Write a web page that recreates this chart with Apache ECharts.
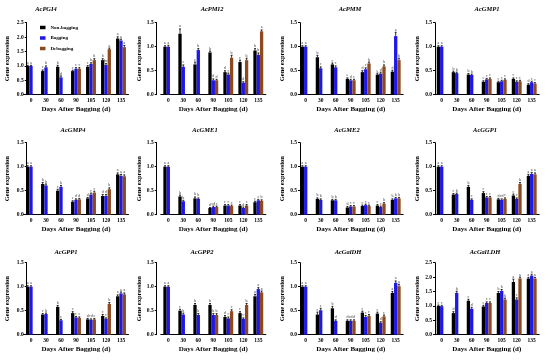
<!DOCTYPE html>
<html><head><meta charset="utf-8">
<script src="https://cdn.jsdelivr.net/npm/echarts@6/dist/echarts.min.js"></script>
<style>html,body{margin:0;padding:0;background:#fff}#c{width:550px;height:360px}</style>
</head><body><div id="c"></div><script>
const days = ['0','30','60','90','105','120','135'];
const groups = ['Non-bagging','Bagging','Debagging'];
const colors = ['#000000','#1f16e8','#8e4a1f'];

// values: [Non-bagging, Bagging, Debagging] by day
const acPGI4 = [[1.00,0.82,0.97,0.82,0.97,1.20,1.95],[1.00,0.95,0.60,0.90,1.07,1.03,1.88],[null,null,null,0.90,1.20,1.58,1.65]];
const acPMI2 = [[1.00,1.27,0.63,0.88,0.47,0.68,0.92],[1.00,0.58,0.93,0.30,0.42,0.25,0.83],[null,null,null,0.30,0.77,0.72,1.32]];
const acPMM = [[1.00,0.78,0.63,0.33,0.47,0.42,0.48],[1.00,0.55,0.57,0.30,0.53,0.44,1.22],[null,null,null,0.30,0.65,0.59,0.72]];
const acGMP1 = [[1.00,0.47,0.42,0.27,0.26,0.33,0.21],[1.00,0.45,0.41,0.32,0.28,0.27,0.26],[null,null,null,0.33,0.31,0.28,0.23]];
const acGMP4 = [[1.00,0.64,0.50,0.27,0.34,0.39,0.84],[1.00,0.61,0.58,0.31,0.42,0.39,0.81],[null,null,null,0.32,0.46,0.53,0.80]];
const acGME1 = [[1.00,0.38,0.34,0.14,0.19,0.19,0.26],[1.00,0.28,0.33,0.16,0.19,0.14,0.30],[null,null,null,0.16,0.18,0.19,0.29]];
const acGME2 = [[1.00,0.33,0.30,0.15,0.18,0.19,0.31],[1.00,0.31,0.30,0.17,0.20,0.16,0.34],[null,null,null,0.17,0.18,0.23,0.34]];
const acGGP1 = [[1.00,0.42,0.58,0.45,0.32,0.40,0.81],[1.00,0.43,0.31,0.36,0.31,0.33,0.85],[null,null,null,0.36,0.33,0.64,0.84]];
const acGPP1 = [[1.00,0.42,0.58,0.45,0.32,0.39,0.80],[1.00,0.43,0.30,0.36,0.31,0.33,0.86],[null,null,null,0.35,0.32,0.64,0.84]];
const acGPP2 = [[1.00,0.50,0.62,0.62,0.37,0.45,0.80],[1.00,0.42,0.41,0.41,0.34,0.33,0.95],[null,null,null,0.41,0.49,0.62,0.88]];
const acGalDH = [[1.00,0.42,0.55,0.29,0.46,0.44,0.87],[1.00,0.51,0.29,0.29,0.37,0.25,1.08],[null,null,null,0.29,0.39,0.38,1.01]];
const acGalLDH = [[1.00,0.75,1.18,0.98,1.45,1.83,1.95],[0.99,1.45,0.90,1.10,1.52,1.22,2.05],[null,null,null,1.10,1.22,1.95,1.95]];

// error bars (upper), same layout
const acPGI4Err = [[.02,.04,.05,.03,.04,.05,.06],[.02,.05,.05,.04,.04,.05,.05],[0,0,0,.04,.05,.04,.06]];
const acPMI2Err = [[.02,.10,.05,.03,.03,.04,.04],[.03,.04,.03,.03,.03,.02,.04],[0,0,0,.02,.05,.04,.03]];
const acPMMErr = [[.02,.04,.03,.02,.03,.03,.03],[.02,.03,.03,.02,.03,.03,.08],[0,0,0,.02,.03,.03,.04]];
const acGMP1Err = [[.02,.02,.02,.02,.02,.02,.02],[.02,.02,.02,.02,.02,.02,.02],[0,0,0,.02,.02,.02,.02]];
const acGMP4Err = [[.02,.03,.03,.02,.02,.03,.03],[.02,.03,.03,.02,.03,.03,.03],[0,0,0,.02,.03,.03,.03]];
const acGME1Err = [[.02,.03,.03,.01,.02,.02,.02],[.02,.02,.02,.02,.02,.02,.02],[0,0,0,.02,.02,.02,.02]];
const acGME2Err = [[.02,.02,.02,.02,.02,.02,.02],[.02,.02,.02,.02,.02,.02,.02],[0,0,0,.02,.02,.02,.02]];
const acGGP1Err = [[.02,.02,.03,.03,.02,.03,.03],[.02,.02,.02,.02,.02,.02,.03],[0,0,0,.02,.02,.03,.03]];
const acGPP1Err = [[.02,.02,.03,.03,.02,.03,.03],[.02,.02,.02,.02,.02,.02,.03],[0,0,0,.02,.02,.03,.03]];
const acGPP2Err = [[.02,.03,.03,.03,.03,.03,.04],[.02,.03,.03,.03,.03,.02,.03],[0,0,0,.03,.03,.03,.03]];
const acGalDHErr = [[.02,.05,.04,.02,.03,.03,.03],[.02,.04,.02,.02,.03,.02,.04],[0,0,0,.02,.03,.03,.04]];
const acGalLDHErr = [[.03,.05,.05,.04,.05,.10,.04],[.03,.06,.05,.04,.05,.06,.05],[0,0,0,.04,.05,.05,.04]];

// significance letters
const acPGI4Sig = ['a c b c c b a','a b d c b bc a','- - - c b a a'];
const acPMI2Sig = ['a a c b d c b','a c b d c d b','- - - d b b a'];
const acPMMSig = ['a b c e d e d','a c c d c d a','- - - c b b b'];
const acGMP1Sig = ['a b b c c c d','a b b c c c c','- - - c c c c'];
const acGMP4Sig = ['a b c e d d a','a b b d c d a','- - - d c b a'];
const acGME1Sig = ['a b b d c c c','a b b cd c d c','- - - c c c b'];
const acGME2Sig = ['a b b d c c b','a b b c c c b','- - - c c b b'];
const acGGP1Sig = ['a c b c d c a','a b c c cd c a','- - - c c b a'];
const acGPP1Sig = ['a c b c d c a','a b c c cd c a','- - - c c b a'];
const acGPP2Sig = ['a c b b d c a','a b b b c c a','- - - b c b a'];
const acGalDHSig = ['a c b d c c a','a c d cd c d a','- - - d c c a'];
const acGalLDHSig = ['c d c c b a a','c b d c b c a','- - - c b a a'];

const genes = ['AcPGI4','AcPMI2','AcPMM','AcGMP1','AcGMP4','AcGME1','AcGME2','AcGGP1','AcGPP1','AcGPP2','AcGalDH','AcGalLDH'];
const yMax = [2.5,1.5,1.5,1.5,1.5,1.5,1.5,1.5,1.5,1.5,1.5,2.5];
const values = [acPGI4,acPMI2,acPMM,acGMP1,acGMP4,acGME1,acGME2,acGGP1,acGPP1,acGPP2,acGalDH,acGalLDH];
const errors = [acPGI4Err,acPMI2Err,acPMMErr,acGMP1Err,acGMP4Err,acGME1Err,acGME2Err,acGGP1Err,acGPP1Err,acGPP2Err,acGalDHErr,acGalLDHErr];
const sigs = [acPGI4Sig,acPMI2Sig,acPMMSig,acGMP1Sig,acGMP4Sig,acGME1Sig,acGME2Sig,acGGP1Sig,acGPP1Sig,acGPP2Sig,acGalDHSig,acGalLDHSig];

const FONT = "'Liberation Serif','Times New Roman',serif";
const colLeft = [23.5,160.8,298.2,434.2];
const axisX = [26.7,156.7,300,435];
const rowTop = [22.7,142.7,262.7];
const W = 105, H = 72;
const BW = 3.3;
const titleX = [46,212,350,487,73,205,347,485,66,202,348,485];
const titleY = [10,131,253];
const yNameGap = [16,11.5,11.5,10.5];

const grid=[], xAxis=[], yAxis=[], series=[], title=[];
genes.forEach((gname,i)=>{
  const r=Math.floor(i/4), c=i%4;
  grid.push({left:colLeft[c], top:rowTop[r], width:W, height:H});
  xAxis.push({type:'category', gridIndex:i, data:days,
    axisLine:{lineStyle:{color:'#000',width:1}},
    axisTick:{alignWithLabel:true,length:2,lineStyle:{color:'#000'}},
    axisLabel:{interval:0,fontFamily:FONT,fontWeight:'bold',fontSize:5.5,color:'#000',margin:2.5},
    name:'Days After Bagging (d)', nameLocation:'middle', nameGap:10.5,
    nameTextStyle:{fontFamily:FONT,fontWeight:'bold',fontSize:7,color:'#000'}});
  yAxis.push({type:'value', gridIndex:i, min:0, max:yMax[i], interval:0.5,
    offset: colLeft[c]-axisX[c],
    splitLine:{show:false},
    axisLine:{show:true,lineStyle:{color:'#000',width:1}},
    axisTick:{show:true,length:2,lineStyle:{color:'#000'}},
    axisLabel:{formatter:v=>v.toFixed(1),fontFamily:FONT,fontWeight:'bold',fontSize:5.5,color:'#000',margin:3},
    name:'Gene expression', nameLocation:'middle', nameGap:yNameGap[c],
    nameTextStyle:{fontFamily:FONT,fontWeight:'bold',fontSize:6.5,color:'#000'}});
  title.push({text:gname, left:titleX[i], top:titleY[r]-4, textAlign:'center', padding:0,
    textStyle:{fontFamily:FONT,fontStyle:'italic',fontWeight:'bold',fontSize:6.5,color:'#000'}});
  groups.forEach((g,s)=>{
    series.push({type:'bar', name:g, xAxisIndex:i, yAxisIndex:i, data:values[i][s],
      barWidth:BW, barGap:'0%', itemStyle:{color:colors[s]}, silent:true});
  });
  const eData=[], labels=[];
  values[i].forEach((arr,s)=>{
    const lets = sigs[i][s].split(' ');
    arr.forEach((m,k)=>{ if(m!=null){ eData.push([k,m,errors[i][s][k],s]); labels.push(lets[k]); } });
  });
  series.push({type:'custom', xAxisIndex:i, yAxisIndex:i, silent:true, z:5, data:eData,
    renderItem:(params,api)=>{
      const k=api.value(0), m=api.value(1), e=api.value(2), s=api.value(3);
      const b=api.coord([k,m]), t=api.coord([k,m+e]);
      const x=b[0]+(s-1)*BW;
      return {type:'group', children:[
        {type:'line', shape:{x1:x,y1:b[1],x2:x,y2:t[1]}, style:{stroke:'#000',lineWidth:0.8}},
        {type:'line', shape:{x1:x-1,y1:t[1],x2:x+1,y2:t[1]}, style:{stroke:'#000',lineWidth:0.8}},
        {type:'text', style:{text:labels[params.dataIndex], x:x, y:t[1]-0.5, align:'center', verticalAlign:'bottom', fontSize:4, fontFamily:FONT, fill:'#333'}}
      ]};
    }});
});

const chart = echarts.init(document.getElementById('c'));
chart.setOption({
  animation:false,
  backgroundColor:'#fff',
  title, grid, xAxis, yAxis, series,
  legend:{data:groups, orient:'vertical', left:35, top:20, itemWidth:5.5, itemHeight:3.5, itemGap:5.5,
    icon:'rect', selectedMode:false,
    textStyle:{fontFamily:FONT,fontSize:5,fontWeight:'bold',color:'#000'}}
});
</script></body></html>
